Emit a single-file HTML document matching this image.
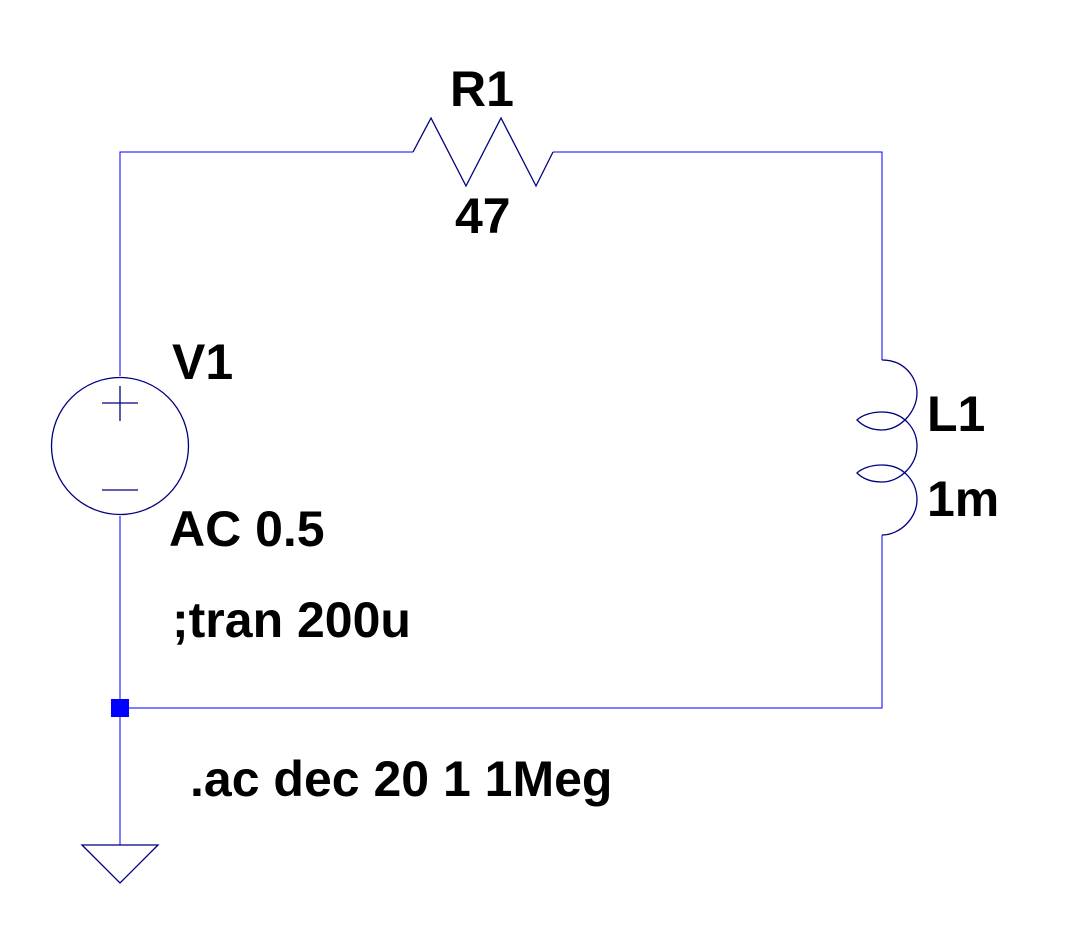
<!DOCTYPE html>
<html><head><style>
html,body{margin:0;padding:0;background:#fff;}
svg{display:block;}
text{font-family:"Liberation Sans",Arial,sans-serif;font-weight:bold;font-size:50px;fill:#000;}
</style></head><body>
<svg width="1081" height="930" viewBox="0 0 1081 930" xmlns="http://www.w3.org/2000/svg">
<g fill="none" stroke="#0000ff" stroke-width="1">
<path d="M120,376 V152 H413"/>
<path d="M553,152 H882 V360"/>
<path d="M882,535 V708 H120"/>
<path d="M120,516 V845"/>
</g>
<g fill="none" stroke="#000080" stroke-width="1.3">
<path d="M413,152 L431,118 L466,186 L501,118 L536,186 L553,152"/>
<circle cx="120" cy="446" r="68.5"/>
<path d="M102,403 H138 M120,386 V421 M102,490 H138"/>
<path d="M82,845 H158 L120,883 Z"/>
<path d="M882,360 C905,360 917,378 917,393 C917,412 900,430 882,430 C870,430 862,425 857,420 C862,415 872,412 882,412 C905,412 917,430 917,446 C917,465 900,482 882,482 C870,482 862,478 857,473 C862,468 872,465 882,465 C905,465 917,483 917,500 C917,518 900,535 882,535"/>
</g>
<rect x="111" y="699" width="18" height="18" fill="#0000ff"/>
<text x="450" y="106">R1</text>
<text x="455" y="233">47</text>
<text x="172" y="379">V1</text>
<text x="927" y="431">L1</text>
<text x="927" y="516">1m</text>
<text x="169" y="546">AC 0.5</text>
<text x="172" y="637">;tran 200u</text>
<text x="190" y="796">.ac dec 20 1 1Meg</text>
</svg>
</body></html>
